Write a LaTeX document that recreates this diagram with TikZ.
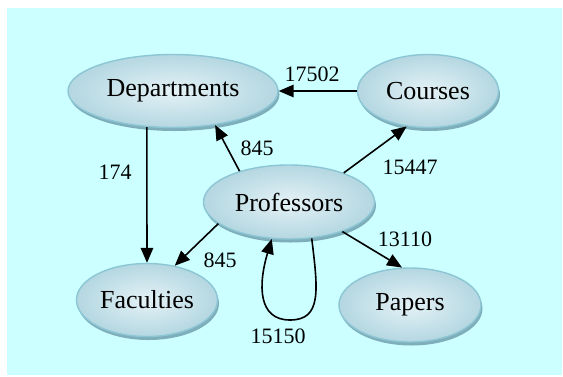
\documentclass[tikz,border=0pt]{standalone}
\usepackage{fontspec}
\setmainfont{Liberation Serif}
\usetikzlibrary{shapes.geometric,arrows.meta,shadows}
\definecolor{bgc}{HTML}{CCFFFF}
\definecolor{rim}{HTML}{8CC6D4}
\definecolor{inn}{HTML}{E4F2F6}
\definecolor{outc}{HTML}{B4D7E1}
\definecolor{shd}{HTML}{7FAEBB}
\begin{document}
\begin{tikzpicture}[x=1pt,y=-1pt,
  ent/.style={ellipse, draw=rim, line width=1.4pt, shading=radial, inner color=inn, outer color=outc,
    inner sep=0pt, font=\fontsize{26}{30}\selectfont,
    drop shadow={shadow xshift=1.5pt, shadow yshift=-3.5pt, fill=shd, opacity=1}},
  lbl/.style={font=\fontsize{22}{26}\selectfont, inner sep=0pt},
  arr/.style={line width=1.6pt, -{Triangle[length=15pt,width=12.5pt]}}]
\useasboundingbox (0,0) rectangle (563,376);
\fill[bgc] (7,8) rectangle (562,375);
% nodes
\node[ent, minimum width=210pt, minimum height=73pt] (D) at (173,91) {Departments};
\node[ent, minimum width=141pt, minimum height=73pt] (C) at (428,91) {Courses};
\node[ent, minimum width=171pt, minimum height=74pt] (P) at (289,202) {Professors};
\node[ent, minimum width=141pt, minimum height=73pt] (F) at (147,300) {Faculties};
\node[ent, minimum width=142pt, minimum height=74pt] (A) at (410,305) {Papers};
% edges
\draw[arr] (C) -- (D);
\draw[arr] (P.148) -- (D.321);
\draw[arr] (D.234) -- (F.north);
\draw[arr] (P.197) -- (F.51);
\draw[arr] (P.28) -- (C.239);
\draw[arr] (P.331) -- (A.102);
\draw[arr] (P.302) .. controls (318,290) and (322,320) .. (290,320)
  .. controls (258,320) and (258,285) .. (P.245);
% labels
\node[lbl] (l1) at (312,74) {17502};
\node[lbl] (l2) at (257,148) {845};
\node[lbl] (l3) at (115,172) {174};
\node[lbl] (l4) at (220,260) {845};
\node[lbl] (l5) at (410,167) {15447};
\node[lbl] (l6) at (405,239) {13110};
\node[lbl] (l7) at (278,336) {15150};
\end{tikzpicture}
\end{document}
